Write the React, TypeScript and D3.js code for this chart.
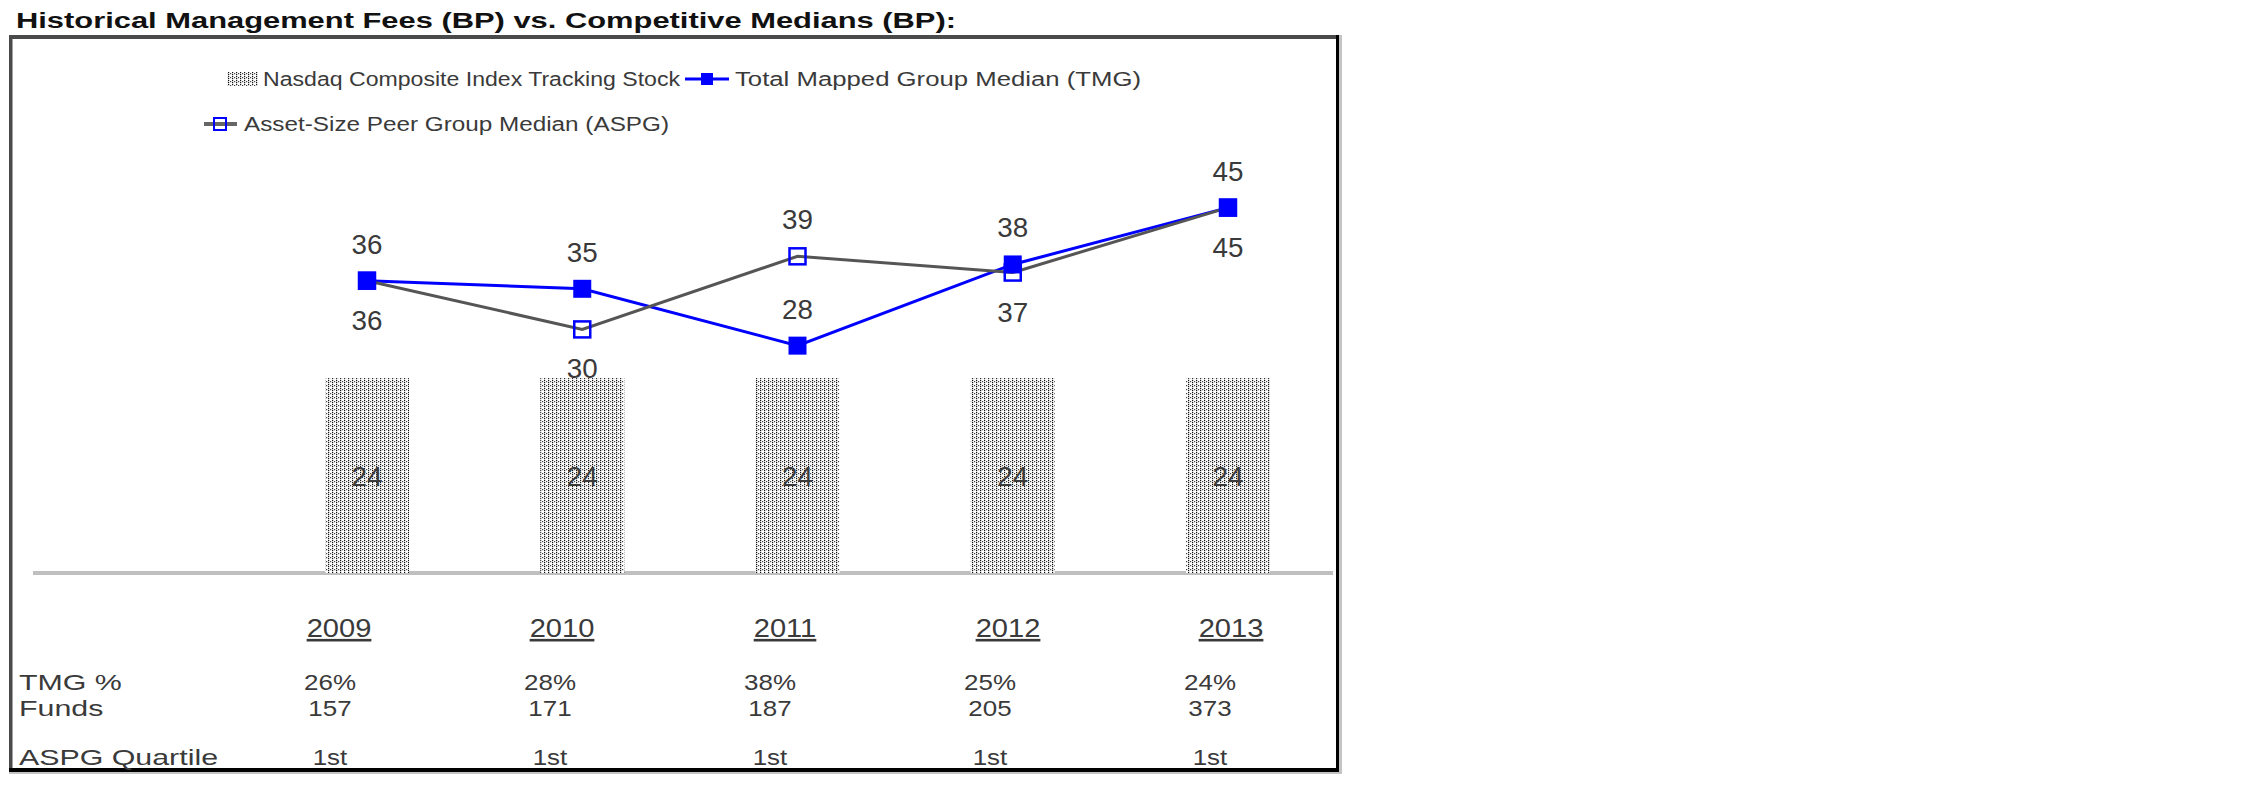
import React from 'react';
import * as d3 from 'd3';

const title = 'Historical Management Fees (BP) vs. Competitive Medians (BP):';
const years = ['2009', '2010', '2011', '2012', '2013'];
const nasdaqFee = [24, 24, 24, 24, 24];
const tmgMedian = [36, 35, 28, 38, 45];
const aspgMedian = [36, 30, 39, 37, 45];
const tmgPct = ['26%', '28%', '38%', '25%', '24%'];
const funds = ['157', '171', '187', '205', '373'];
const aspgQuartile = ['1st', '1st', '1st', '1st', '1st'];
const rowLabels = ['TMG %', 'Funds', 'ASPG Quartile'];
const legendLabels = [
  'Nasdaq Composite Index Tracking Stock',
  'Total Mapped Group Median (TMG)',
  'Asset-Size Peer Group Median (ASPG)',
];

const FONT = '"Liberation Sans", Arial, Helvetica, sans-serif';
const TXT = '#3a3a3a';
const BLUE = '#0000ff';
const GRAY_LINE = '#555555';

function T(props: any) {
  const { x, y, sx = 1, size, anchor = 'start', weight = 'normal', fill = TXT, underline = false, children, len } = props;
  return (
    <text
      transform={`translate(${x},${y}) scale(${sx},1)`}
      fontSize={size}
      fontFamily={FONT}
      textAnchor={anchor}
      fontWeight={weight}
      fill={fill}
      textDecoration={underline ? 'underline' : undefined}
      textLength={len}
      lengthAdjust={len ? 'spacingAndGlyphs' : undefined}
    >
      {children}
    </text>
  );
}

export default function App() {
  const W = 2250;
  const H = 796;
  const xp = d3.scalePoint<string>().domain(years).range([367, 1228]);
  const y = d3.scaleLinear().domain([0, 50]).range([573, 167]);
  const barW = 84;
  const xYear = d3.scalePoint<string>().domain(years).range([339, 1231]);
  const xVal = d3.scalePoint<string>().domain(years).range([330, 1210]);

  const mkLine = (vals: number[]) =>
    d3.line<number>().x((_, i) => xp(years[i])!).y((d) => y(d))(vals) || '';

  const tmgSz = 18;
  const aspgSz = 16;
  const labelSize = 27;
  const tableSize = 22;

  const rows = [tmgPct, funds, aspgQuartile];
  const rowY = [690, 716, 765];

  return (
    <svg width={W} height={H} style={{ position: 'absolute', left: 0, top: 0, background: '#fff' }}>
      <defs>
        <pattern id="dots" width={4} height={4} patternUnits="userSpaceOnUse">
          <rect width={4} height={4} fill="#ffffff" />
          <rect x={0} y={0} width={1.2} height={1.2} fill="#111" />
          <rect x={0} y={2} width={1.2} height={1.2} fill="#111" />
          <rect x={2} y={1} width={1.2} height={1.2} fill="#444" />
        </pattern>
      </defs>
      <rect width={W} height={H} fill="#fff" />

      {/* title */}
      <T x={16} y={28} size={22} weight="bold" fill="#111" len={940}>{title}</T>

      {/* frame */}
      <rect x={9} y={35} width={1330} height={4} fill="#4a4a4a" />
      <rect x={9} y={35} width={3.5} height={737} fill="#4a4a4a" />
      <rect x={1339} y={35} width={3} height={739} fill="#c4c4c4" />
      <rect x={1336} y={35} width={3} height={737} fill="#000" />
      <rect x={9} y={772} width={1333} height={2} fill="#c4c4c4" />
      <rect x={9} y={768} width={1330} height={4} fill="#000" />

      {/* legend */}
      <rect x={227} y={72} width={31} height={14} fill="url(#dots)" />
      <T x={263} y={86} size={20} len={417}>{legendLabels[0]}</T>
      <line x1={685} x2={729} y1={79} y2={79} stroke={BLUE} strokeWidth={3} />
      <rect x={707 - 6} y={79 - 6} width={12} height={12} fill={BLUE} />
      <T x={735} y={86} size={20} len={406}>{legendLabels[1]}</T>
      <line x1={204} x2={237} y1={124} y2={124} stroke="#666" strokeWidth={4} />
      <rect x={220 - 6} y={124 - 6} width={12} height={12} fill="none" stroke={BLUE} strokeWidth={2} />
      <T x={244} y={131} size={20} len={425}>{legendLabels[2]}</T>

      {/* baseline */}
      <line x1={33} x2={1333} y1={y(0)} y2={y(0)} stroke="#bfbfbf" strokeWidth={4} />

      {/* bars */}
      {years.map((yr, i) => (
        <rect
          key={'b' + yr}
          x={xp(yr)! - barW / 2}
          y={y(nasdaqFee[i])}
          width={barW}
          height={y(0) - y(nasdaqFee[i])}
          fill="url(#dots)"
        />
      ))}
      {years.map((yr, i) => (
        <T key={'bl' + yr} x={xp(yr)!} y={y(nasdaqFee[i] / 2) + 10} size={labelSize} sx={1.03} anchor="middle">
          {nasdaqFee[i]}
        </T>
      ))}

      {/* lines */}
      <path d={mkLine(tmgMedian)} fill="none" stroke={BLUE} strokeWidth={3} />
      <path d={mkLine(aspgMedian)} fill="none" stroke={GRAY_LINE} strokeWidth={3} />
      {years.map((yr, i) => (
        <rect
          key={'am' + yr}
          x={xp(yr)! - aspgSz / 2}
          y={y(aspgMedian[i]) - aspgSz / 2}
          width={aspgSz}
          height={aspgSz}
          fill="none"
          stroke={BLUE}
          strokeWidth={2.5}
        />
      ))}
      {years.map((yr, i) => (
        <rect
          key={'tm' + yr}
          x={xp(yr)! - tmgSz / 2}
          y={y(tmgMedian[i]) - tmgSz / 2}
          width={tmgSz}
          height={tmgSz}
          fill={BLUE}
        />
      ))}

      {/* point labels */}
      {years.map((yr, i) => (
        <T key={'tl' + yr} x={xp(yr)!} y={y(tmgMedian[i]) - 37 + 10} size={labelSize} sx={1.03} anchor="middle">
          {tmgMedian[i]}
        </T>
      ))}
      {years.map((yr, i) => {
        const above = aspgMedian[i] > tmgMedian[i];
        const cy = y(aspgMedian[i]) + (above ? -37 : 39);
        return (
          <T key={'al' + yr} x={xp(yr)!} y={cy + 10} size={labelSize} sx={1.03} anchor="middle">
            {aspgMedian[i]}
          </T>
        );
      })}

      {/* table */}
      {years.map((yr) => (
        <T key={'y' + yr} x={xYear(yr)!} y={637} size={26} sx={1.12} anchor="middle" underline>
          {yr}
        </T>
      ))}
      {rowLabels.map((lab, r) => (
        <T key={'rl' + r} x={19} y={rowY[r]} size={tableSize} sx={1.38}>
          {lab}
        </T>
      ))}
      {rows.map((row, r) =>
        years.map((yr, i) => (
          <T key={'v' + r + yr} x={xVal(yr)!} y={rowY[r]} size={tableSize} sx={1.18} anchor="middle">
            {row[i]}
          </T>
        ))
      )}
    </svg>
  );
}
